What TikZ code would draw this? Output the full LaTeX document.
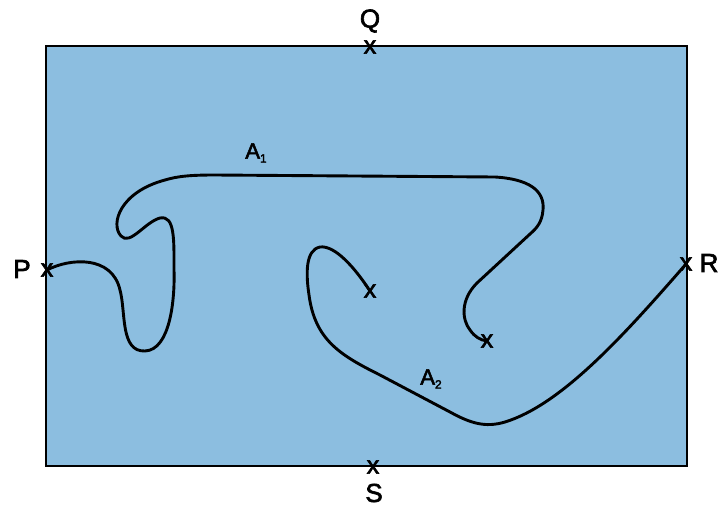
\documentclass[tikz,border=0pt]{standalone}
\usepackage{fontspec}
\setmainfont{Liberation Sans}
\newfontfamily\heavyfont[FakeBold=2.5]{Liberation Sans}
\definecolor{regionblue}{RGB}{140,190,224}
\tikzset{
  mark x/.style={inner sep=0pt, font=\heavyfont\fontsize{25}{25}\selectfont},
  ptlabel/.style={inner sep=0pt, font=\heavyfont\fontsize{26}{26}\selectfont},
  arclabel/.style={inner sep=0pt, font=\heavyfont\fontsize{22}{22}\selectfont},
  curve/.style={line width=2.9pt, line cap=round, line join=round},
}
\newcommand{\arcname}[1]{A\raisebox{-4pt}{\fontsize{12}{12}\selectfont #1}}
\begin{document}
\begin{tikzpicture}[x=1pt,y=-1pt]
\useasboundingbox (0,0) rectangle (720,506);
\draw[line width=1.8pt, fill=regionblue] (46,46) rectangle (687,466);
% markers
\coordinate (P) at (47,270);
\coordinate (Q) at (370,47);
\coordinate (R) at (686,264);
\coordinate (S) at (373,467);
\coordinate (E1) at (487,341);
\coordinate (E2) at (370,291);
\node[mark x] (xP) at (P) {x};
\node[mark x] (xQ) at (Q) {x};
\node[mark x] (xR) at (R) {x};
\node[mark x] (xS) at (S) {x};
\node[mark x] (xE1) at (E1) {x};
\node[mark x] (xE2) at (E2) {x};
% labels
\node[ptlabel] (lP) at (22,269) {P};
\node[ptlabel] (lQ) at (370,21) {Q};
\node[ptlabel] (lR) at (709,263) {R};
\node[ptlabel] (lS) at (374,493) {S};
\node[arclabel] (lA1) at (256,153) {\arcname{1}};
\node[arclabel] (lA2) at (431,379) {\arcname{2}};
% curve A1
\draw[curve] (P) .. controls (70,258) and (112,255) .. (120,290)
  .. controls (126,312) and (120,352) .. (145,351)
  .. controls (170,350) and (175,300) .. (174,270)
  .. controls (174,240) and (175,215) .. (160,218)
  .. controls (145,222) and (130,246) .. (121,236)
  .. controls (110,224) and (120,192) .. (165,180)
  .. controls (178,176) and (192,175) .. (215,175)
  -- (495,177)
  .. controls (528,179) and (545,190) .. (543,210)
  .. controls (542,222) and (537,228) .. (530,234)
  -- (477,283)
  .. controls (460,300) and (462,320) .. (470,330)
  .. controls (475,337) and (480,340) .. (E1);
% curve A2
\draw[curve] (E2) .. controls (355,268) and (335,245) .. (320,247)
  .. controls (305,250) and (306,275) .. (309,295)
  .. controls (315,340) and (340,355) .. (380,375)
  -- (450,412)
  .. controls (470,423) and (485,428) .. (505,422)
  .. controls (560,405) and (620,340) .. (R);
\end{tikzpicture}
\end{document}
